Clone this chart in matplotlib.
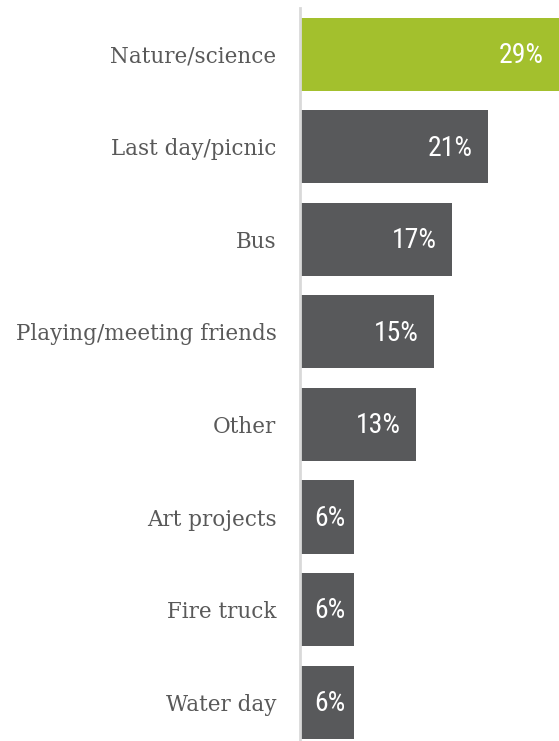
import matplotlib
matplotlib.use('Agg')
import matplotlib.pyplot as plt

# survey answers, top to bottom
categories = ['Nature/science', 'Last day/picnic', 'Bus', 'Playing/meeting friends',
              'Other', 'Art projects', 'Fire truck', 'Water day']
values = [29, 21, 17, 15, 13, 6, 6, 6]
value_labels = ['29%', '21%', '17%', '15%', '13%', '6%', '6%', '6%']

green = '#a3c02d'
grey = '#58595b'
colors = [green] + [grey] * (len(values) - 1)
narrow = ['Roboto Condensed', 'DejaVu Sans']

fig = plt.figure(figsize=(5.59, 7.41), dpi=100)
W, H = 559, 741
# axes from the vertical line at x=300 to the right edge, y from 8px down past the bottom
ax = fig.add_axes([300 / W, 0, 259 / W, (H - 8) / H])

y = list(range(len(values)))
ax.barh(y, values, height=0.79, color=colors, zorder=2)
ax.set_xlim(0, 29)
ax.set_ylim(7.42, -0.5)

for s in ['top', 'right', 'bottom']:
    ax.spines[s].set_visible(False)
ax.spines['left'].set_color('#d9d9d9')
ax.spines['left'].set_linewidth(2)
ax.set_xticks([])
ax.set_yticks(y)
ax.set_yticklabels(categories, family='DejaVu Serif', fontsize=15.5, color='#595959')
ax.tick_params(axis='y', length=0, pad=17)

for i, (v, lab) in enumerate(zip(values, value_labels)):
    if v < 10:
        ax.annotate(lab, (v / 2, i), xytext=(2, -1), textcoords='offset points',
                    ha='center', va='center', color='white', fontsize=20,
                    family=narrow, stretch='condensed')
    else:
        ax.annotate(lab, (v, i), xytext=(-11, -1), textcoords='offset points',
                    ha='right', va='center', color='white', fontsize=20,
                    family=narrow, stretch='condensed')

fig.savefig('out.png', dpi=100)
